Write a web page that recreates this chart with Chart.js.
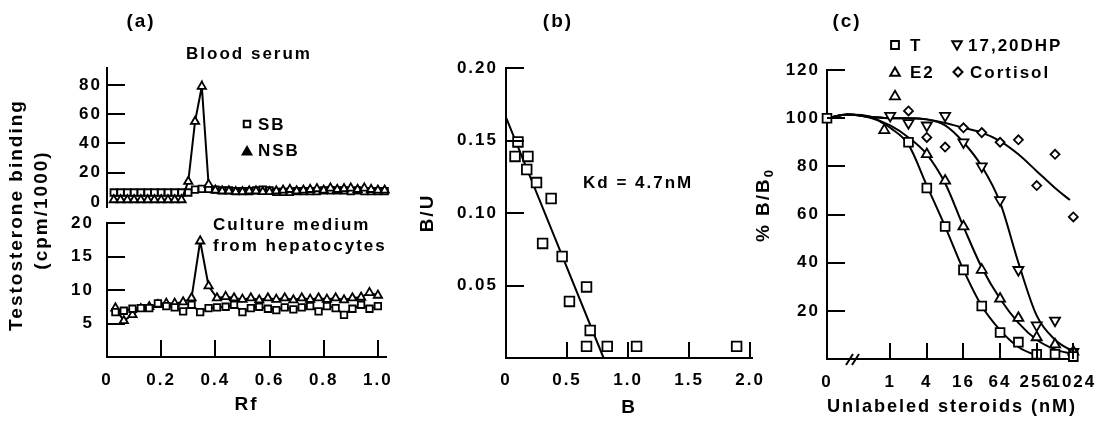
<!DOCTYPE html>
<html lang="en">
<head>
<meta charset="UTF-8">
<title>Testosterone binding</title>
<script src="https://cdn.jsdelivr.net/npm/chart.js"></script>
<style>
    body {
        margin: 0;
        background: #fff;
    }

    #wrap {
        position: relative;
        width: 1114px;
        height: 427px;
    }

    #wrap canvas {
        position: absolute;
        left: 0;
        top: 0;
    }
</style>
</head>
<body>

<div id="wrap">
    <canvas id="serumChart" width="1114" height="427"></canvas>
    <canvas id="mediumChart" width="1114" height="427"></canvas>
    <canvas id="scatchardChart" width="1114" height="427"></canvas>
    <canvas id="competitionChart" width="1114" height="427"></canvas>
</div>

<script>
    // (a) radioactivity along the TLC lane
    const serumRf = [0.025, 0.05, 0.075, 0.1, 0.125, 0.15, 0.175, 0.2, 0.225, 0.25, 0.275,
                     0.3, 0.325, 0.35, 0.375, 0.4, 0.425, 0.45, 0.475, 0.5, 0.525, 0.55,
                     0.575, 0.6, 0.625, 0.65, 0.675, 0.7, 0.725, 0.75, 0.775, 0.8, 0.825,
                     0.85, 0.875, 0.9, 0.925, 0.95, 0.975, 1.0, 1.025];
    const serumSB = [6.5, 6.5, 6.5, 6.5, 6.5, 6.5, 6.5, 6.5, 6.5, 6.5, 6.5,
                     6.5, 8.5, 9, 9, 8.5, 8, 8, 7.5, 7.5, 7.5, 8,
                     8.5, 8, 7, 7, 7, 7.5, 7.5, 7.5, 7.5, 8, 8,
                     8, 8, 7.5, 8, 7.5, 7.5, 7.5, 7.5];
    const serumNSB = [1.5, 1.5, 1.5, 1.5, 1.5, 1.5, 1.5, 1.5, 1.5, 1.5, 1.5,
                      14, 55, 79, 12, 8, 7.5, 7.5, 7, 7, 7.5, 7.5,
                      7, 7, 7.5, 8, 8.5, 7.5, 8, 8.5, 9, 8, 9.5,
                      8.5, 9, 9.5, 8.5, 9.5, 8.5, 8, 8];

    const mediumRf = [0.031, 0.062, 0.094, 0.125, 0.156, 0.188, 0.219, 0.25, 0.281, 0.312, 0.344,
                      0.375, 0.406, 0.438, 0.469, 0.5, 0.531, 0.562, 0.594, 0.625, 0.656, 0.688,
                      0.719, 0.75, 0.781, 0.812, 0.844, 0.875, 0.906, 0.938, 0.969, 1.0];
    const mediumSB = [6.7, 6.9, 7.2, 7.3, 7.3, 8.0, 7.6, 7.4, 6.8, 7.8, 6.7,
                      7.3, 7.4, 7.5, 7.8, 6.7, 7.3, 7.5, 7.2, 7.0, 7.4, 7.1,
                      7.4, 7.6, 6.8, 7.6, 7.3, 6.3, 7.2, 7.8, 7.2, 7.6];
    const mediumNSB = [7.3, 5.4, 6.3, 7.2, 7.5, 7.8, 8.0, 8.0, 8.2, 8.8, 17.3,
                       10.6, 8.8, 9.0, 8.8, 8.6, 8.8, 8.5, 8.8, 8.6, 8.8, 8.5,
                       8.8, 8.6, 8.8, 8.6, 8.8, 8.5, 8.8, 8.9, 9.6, 9.2];

    const rfTicks = [0, 0.2, 0.4, 0.6, 0.8, 1.0];
    const serumTicks = [0, 20, 40, 60, 80];
    const mediumTicks = [5, 10, 15, 20];

    // (b) Scatchard plot
    const scatB = [0.098, 0.074, 0.18, 0.17, 0.25, 0.37, 0.30, 0.46, 0.66, 0.52, 0.69, 0.66, 0.83, 1.07, 1.89];
    const scatBU = [0.149, 0.139, 0.139, 0.130, 0.121, 0.110, 0.079, 0.070, 0.049, 0.039, 0.019, 0.008, 0.008, 0.008, 0.008];
    const fitB = [0, 0.80];
    const fitBU = [0.166, 0];
    const bTicks = [0, 0.5, 1.0, 1.5, 2.0];
    const buTicks = [0.05, 0.10, 0.15, 0.20];

    // (c) competition curves, concentrations in nM (0 = no competitor)
    const tConc = [0, 2, 4, 8, 16, 32, 64, 128, 256, 512, 1024];
    const tPct = [100, 90, 71, 55, 37, 22, 11, 7, 2, 2, 1];
    const e2Conc = [0.8, 1.2, 4, 8, 16, 32, 64, 128, 256, 512, 1024];
    const e2Pct = [95, 109, 85, 74, 55, 37, 25, 17, 9, 6, 3];
    const dhpConc = [1, 2, 4, 8, 16, 32, 64, 128, 256, 512, 1024];
    const dhpPct = [101, 98, 97, 101, 90, 80, 66, 37, 14, 16, 3];
    const cortConc = [2, 4, 8, 16, 32, 64, 128, 256, 512, 1024];
    const cortPct = [103, 92, 88, 96, 94, 90, 91, 72, 85, 59];

    const tFitConc = [0, 0.2, 0.5, 0.75, 1, 2, 4, 8, 16, 32, 64, 128, 256, 300];
    const tFitPct = [100, 101.5, 100.5, 98, 96, 89, 72, 55, 37, 22, 12, 5, 1.5, 1];
    const e2FitConc = [0, 0.2, 0.5, 1, 2, 4, 8, 16, 32, 64, 128, 256, 512, 1024];
    const e2FitPct = [100, 101.5, 100, 97, 92, 85, 73, 55, 38, 25, 15, 8, 4, 2];
    const dhpFitConc = [0, 0.2, 0.5, 1, 2, 4, 8, 16, 32, 64, 128, 256, 512, 1024];
    const dhpFitPct = [100, 101.5, 100.5, 100, 100, 99.5, 97, 90, 80, 65, 40, 18, 8, 3];
    const cortFitConc = [0, 0.2, 0.5, 1, 2, 4, 8, 16, 32, 64, 128, 256, 512, 900];
    const cortFitPct = [100, 101.5, 100.5, 100, 100, 99.5, 98, 96, 94, 90.5, 85, 78, 71, 66];

    const concTicks = [0, 1, 4, 16, 64, 256, 1024];
    const concTickLabels = ['0', '1', '4', '16', '64', '256', '1024'];
    const pctTicks = [20, 40, 60, 80, 100, 120];

    const FONT = '"Liberation Sans", Arial, sans-serif';
    const tickFont = { family: FONT, size: 17, weight: 'bold' };
    const titleFont = { family: FONT, size: 19, weight: 'bold' };
    const W = 1114, H = 427;

    // the "0" of the log axis sits on the y axis, left of the break
    const CONC_MIN = -3.45;
    const toLog = c => c > 0 ? Math.log2(c) : CONC_MIN;

    function pts(xs, ys, fx) {
        return xs.map((x, i) => ({ x: fx ? fx(x) : x, y: ys[i] }));
    }

    // letter spacing of the old typeset figure
    const spacing = {
        id: 'spacing',
        beforeDraw(chart) { chart.ctx.letterSpacing = '2px'; }
    };

    // tick marks pointing into the plot, as in the original
    const inwardTicks = {
        id: 'inwardTicks',
        afterDraw(chart, args, opts) {
            const ctx = chart.ctx;
            const area = chart.chartArea;
            ctx.save();
            ctx.strokeStyle = '#000';
            ctx.lineWidth = 2;
            ctx.beginPath();
            const xs = chart.scales.x;
            if (opts.x) {
                xs.ticks.forEach(t => {
                    if (t.value === xs.min) return;
                    const px = Math.round(xs.getPixelForValue(t.value));
                    ctx.moveTo(px, area.bottom);
                    ctx.lineTo(px, area.bottom - opts.x);
                });
            }
            const ys = chart.scales.y;
            ys.ticks.forEach(t => {
                if (t.value === 0 && opts.skipZero) return;
                const py = Math.round(ys.getPixelForValue(t.value));
                ctx.moveTo(area.left, py);
                ctx.lineTo(area.left + opts.y, py);
            });
            ctx.stroke();
            ctx.restore();
        }
    };

    function axis(o) {
        return {
            type: 'linear',
            display: o.display !== false,
            min: o.min,
            max: o.max,
            afterBuildTicks: s => { s.ticks = o.ticks.map(v => ({ value: v })); },
            afterFit: s => {
                if (s.isHorizontal()) s.height = o.size; else s.width = o.size;
                s.paddingLeft = s.paddingRight = s.paddingTop = s.paddingBottom = 0;
            },
            border: { display: true, color: '#000', width: 2 },
            grid: { display: false, drawTicks: false },
            ticks: {
                padding: o.pad,
                color: '#000',
                font: tickFont,
                autoSkip: false,
                maxRotation: 0,
                callback: o.format
            },
            title: o.title ? {
                display: true,
                text: o.title,
                color: '#000',
                font: titleFont,
                padding: o.titlePad
            } : { display: false }
        };
    }

    function makeChart(id, datasets, area, x, y, extra) {
        const xs = x.display === false ? 0 : x.size;
        return new Chart(document.getElementById(id), {
            type: 'scatter',
            data: { datasets: datasets },
            options: {
                responsive: false,
                animation: false,
                layout: {
                    autoPadding: false,
                    padding: {
                        left: area.left - y.size,
                        top: area.top,
                        right: W - area.right,
                        bottom: H - area.bottom - xs
                    }
                },
                plugins: {
                    legend: { display: false },
                    tooltip: { enabled: false },
                    inwardTicks: {
                        x: x.display === false ? 0 : x.tickLen,
                        y: y.tickLen,
                        skipZero: !!y.noZeroTick
                    }
                },
                scales: { x: axis(x), y: axis(y) }
            },
            plugins: [spacing, inwardTicks].concat(extra || [])
        });
    }

    function series(data, style, r, line, extra) {
        return Object.assign({
            data: data,
            showLine: line,
            borderColor: '#000',
            borderWidth: 2,
            pointStyle: style,
            pointRadius: r,
            pointBorderWidth: 1.8,
            pointBorderColor: '#000',
            pointBackgroundColor: '#fff',
            clip: false
        }, extra || {});
    }

    function curve(data) {
        return {
            data: data,
            showLine: true,
            borderColor: '#000',
            borderWidth: 2,
            pointRadius: 0,
            cubicInterpolationMode: 'monotone',
            clip: false
        };
    }

    const rfFormat = v => v === 0 ? '0' : v.toFixed(1);

    // (a) top: blood serum
    makeChart('serumChart', [
        series(pts(serumRf, serumNSB), 'triangle', 4.8, true),
        series(pts(serumRf, serumSB), 'rect', 4.6, true)
    ], { left: 107, right: 386, top: 68, bottom: 207 },
    { display: false, min: 0, max: 1.03, ticks: rfTicks, size: 0, tickLen: 17, pad: 13 },
    { min: -3.4, max: 91.6, ticks: serumTicks, size: 60, tickLen: 18, pad: 5, noZeroTick: true,
      format: v => String(v) });

    // (a) bottom: culture medium
    makeChart('mediumChart', [
        series(pts(mediumRf, mediumSB), 'rect', 4.6, true),
        series(pts(mediumRf, mediumNSB), 'triangle', 4.8, true)
    ], { left: 107, right: 386, top: 223, bottom: 357 },
    { min: 0, max: 1.03, ticks: rfTicks, size: 70, tickLen: 17, pad: 13, format: rfFormat,
      title: 'Rf', titlePad: { top: 0, bottom: 11 } },
    { min: 0, max: 20, ticks: mediumTicks, size: 60, tickLen: 18, pad: 13, format: v => String(v) });

    // (b) Scatchard
    makeChart('scatchardChart', [
        series(pts(scatB, scatBU), 'rect', 6.8, false),
        curve(pts(fitB, fitBU))
    ], { left: 506, right: 752, top: 68, bottom: 358 },
    { min: 0, max: 2.016, ticks: bTicks, size: 69, tickLen: 16, pad: 12,
      format: v => v === 0 ? '0' : v.toFixed(1), title: 'B', titlePad: { top: 0, bottom: 8 } },
    { min: 0, max: 0.2, ticks: buTicks, size: 100, tickLen: 18, pad: 8,
      format: v => v.toFixed(2), title: 'B/U', titlePad: { top: 10, bottom: 0 } });

    // free text of the figure, in page coordinates
    function marker(ctx, style, x, y, r, rot, filled) {
        ctx.save();
        ctx.fillStyle = filled ? '#000' : '#fff';
        ctx.strokeStyle = '#000';
        ctx.lineWidth = 2;
        Chart.helpers.drawPoint(ctx, { pointStyle: style, radius: r, rotation: rot || 0, borderWidth: 2 }, x, y);
        ctx.restore();
    }

    function vText(ctx, text, x, y) {
        ctx.save();
        ctx.translate(x, y);
        ctx.rotate(-Math.PI / 2);
        ctx.fillText(text, 0, 0);
        ctx.restore();
    }

    const figureText = {
        id: 'figureText',
        afterDraw(chart) {
            const ctx = chart.ctx;
            ctx.save();
            ctx.letterSpacing = '2px';
            ctx.fillStyle = '#000';
            ctx.textBaseline = 'middle';

            ctx.font = `bold 19px ${FONT}`;
            ctx.textAlign = 'center';
            ctx.fillText('(a)', 141, 22);
            ctx.fillText('(b)', 558, 22);
            ctx.fillText('(c)', 847, 22);
            vText(ctx, 'Testosterone binding', 17, 215);
            vText(ctx, '(cpm/1000)', 42, 210);

            // % B/B0 with subscript
            ctx.save();
            ctx.translate(764, 205);
            ctx.rotate(-Math.PI / 2);
            ctx.textAlign = 'left';
            const main = '% B/B';
            ctx.font = `bold 19px ${FONT}`;
            const w1 = ctx.measureText(main).width;
            ctx.font = `bold 13px ${FONT}`;
            const w2 = ctx.measureText('0').width;
            ctx.font = `bold 19px ${FONT}`;
            ctx.fillText(main, -(w1 + w2) / 2, 0);
            ctx.font = `bold 13px ${FONT}`;
            ctx.fillText('0', -(w1 + w2) / 2 + w1, 5);
            ctx.restore();

            ctx.font = `bold 17px ${FONT}`;
            ctx.textAlign = 'center';
            ctx.fillText('Blood serum', 249, 54);
            ctx.textAlign = 'left';
            ctx.fillText('SB', 258, 125);
            ctx.fillText('NSB', 258, 151);
            ctx.fillText('Culture medium', 213, 225);
            ctx.fillText('from hepatocytes', 213, 246);
            ctx.fillText('Kd = 4.7nM', 583, 183);
            ctx.fillText('T', 910, 46);
            ctx.fillText('17,20DHP', 968, 46);
            ctx.fillText('E2', 910, 73);
            ctx.fillText('Cortisol', 970, 73);

            marker(ctx, 'rect', 247, 124, 4.6, 0, false);
            marker(ctx, 'triangle', 247, 152, 5, 0, true);
            marker(ctx, 'rect', 895, 45, 5.5, 0, false);
            marker(ctx, 'triangle', 957, 44, 5.5, 180, false);
            marker(ctx, 'triangle', 895, 73, 5.5, 0, false);
            marker(ctx, 'rectRot', 958, 72, 4.5, 0, false);

            // axis break on the concentration axis
            ctx.strokeStyle = '#000';
            ctx.lineWidth = 2;
            ctx.beginPath();
            ctx.moveTo(846, 365); ctx.lineTo(853, 354);
            ctx.moveTo(852, 365); ctx.lineTo(859, 354);
            ctx.stroke();
            ctx.restore();
        }
    };

    // (c) competition
    makeChart('competitionChart', [
        series(pts(tConc, tPct, toLog), 'rect', 6.2, false),
        series(pts(e2Conc, e2Pct, toLog), 'triangle', 5.8, false),
        series(pts(dhpConc, dhpPct, toLog), 'triangle', 5.8, false, { rotation: 180 }),
        series(pts(cortConc, cortPct, toLog), 'rectRot', 4.5, false),
        curve(pts(tFitConc, tFitPct, toLog)),
        curve(pts(e2FitConc, e2FitPct, toLog)),
        curve(pts(dhpFitConc, dhpFitPct, toLog)),
        curve(pts(cortFitConc, cortFitPct, toLog))
    ], { left: 827, right: 1077, top: 70, bottom: 359 },
    { min: CONC_MIN, max: 10.2, ticks: concTicks.map(toLog), size: 68, tickLen: 16, pad: 13,
      format: (v, i) => concTickLabels[i], title: 'Unlabeled steroids (nM)', titlePad: { top: 0, bottom: 9 } },
    { min: 0, max: 120, ticks: pctTicks, size: 82, tickLen: 18, pad: 7, format: v => String(v) },
    [figureText]);
</script>

</body>
</html>
